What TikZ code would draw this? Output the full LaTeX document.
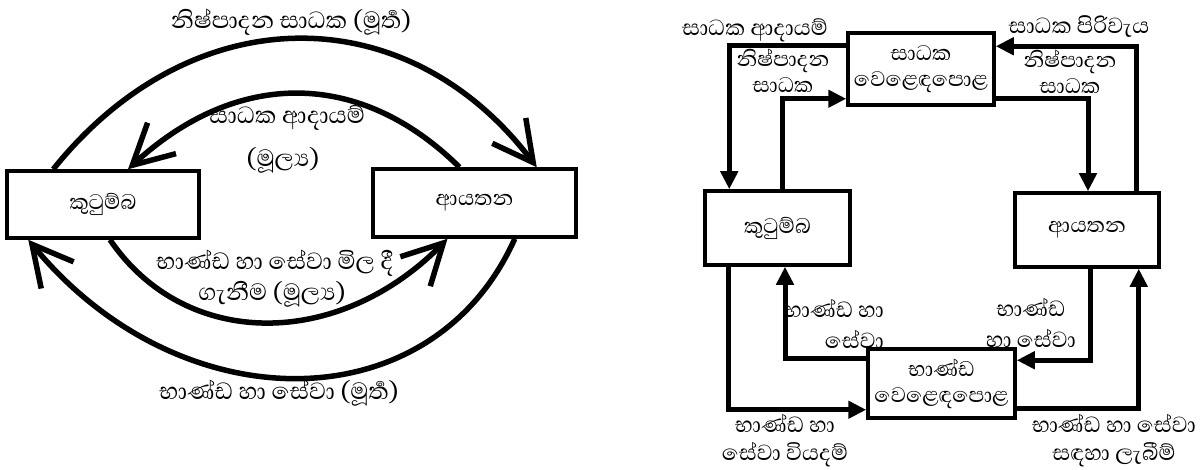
\documentclass[tikz,border=0pt]{standalone}
\usepackage{fontspec}
\setmainfont[Script=Sinhala]{Abhaya Libre}
\usetikzlibrary{arrows.meta}

\begin{document}
\begin{tikzpicture}[x=1pt, y=-1pt,
  box/.style={draw, line width=3.5pt, inner sep=0pt, align=center, font=\fontsize{27}{26}\selectfont},
  curve/.style={line width=5.5pt, -{Straight Barb[length=40pt,width=42pt]}},
  flow/.style={line width=5pt, -{Triangle[length=18pt,width=17pt]}},
  lbl/.style={align=center, inner sep=0pt, font=\fontsize{28}{28}\selectfont},
  bigl/.style={lbl, font=\fontsize{30}{30}\selectfont}]
\useasboundingbox (0,0) rectangle (1201,470);

% Draw the boxes of the simple flow
\node[box, minimum width=192pt, minimum height=67pt] (kutumba1) at (103,204.5) {කුටුම්බ};
\node[box, minimum width=203pt, minimum height=68pt] (ayatana1) at (474.5,203) {ආයතන};

% Draw the curved flows
\draw[curve] ([xshift=48pt]kutumba1.north west) .. controls (192,-4) and (407,-4) .. ([xshift=-41pt]ayatana1.north east);
\draw[curve] ([xshift=-15pt]ayatana1.north) .. controls (360,69) and (237,69) .. ([xshift=25pt]kutumba1.north);
\draw[curve] ([xshift=7pt]kutumba1.south) .. controls (185,350) and (338,350) .. ([xshift=-27pt]ayatana1.south);
\draw[curve] ([xshift=-63pt]ayatana1.south east) .. controls (432,424) and (180,424) .. ([xshift=23pt]kutumba1.south west);

% Place the flow labels
\node[bigl] (prod1) at (291,22) {නිෂ්පාදන සාධක (මූර්^^^^200dත)};
\node[bigl] (inc1) at (287,118) {සාධක ආදායම්};
\node[bigl] (inc1b) at (283,160) {(මූල්^^^^200dය)};
\node[bigl] (buy1) at (275,263) {භාණ්ඩ හා සේවා මිල දී};
\node[bigl] (buy1b) at (272,294) {ගැනීම (මූල්^^^^200dය)};
\node[bigl] (goods1) at (279,393) {භාණ්ඩ හා සේවා (මූර්^^^^200dත)};

% Draw the boxes of the market flow
\node[box, minimum width=146pt, minimum height=72pt] (sadhaka) at (921,69) {සාධක\\වෙළෙඳපොළ};
\node[box, minimum width=145pt, minimum height=74pt] (kutumba2) at (777.5,228) {කුටුම්බ};
\node[box, minimum width=144pt, minimum height=74pt] (ayatana2) at (1087,230) {ආයතන};
\node[box, minimum width=147pt, minimum height=69pt] (bhanda) at (941.5,383.5) {භාණ්ඩ\\වෙළෙඳපොළ};

% Draw the market flows
\draw[flow] ([yshift=-14pt]sadhaka.north west) -| ([xshift=26pt]kutumba2.north west);
\draw[flow] ([xshift=4.5pt]kutumba2.north) |- ([yshift=8pt]sadhaka.south west);
\draw[flow] ([xshift=-24pt]ayatana2.north east) |- ([yshift=-15pt]sadhaka.north east);
\draw[flow] ([yshift=8pt]sadhaka.south east) -| ([xshift=1pt]ayatana2.north);
\draw[flow] ([yshift=-11pt]bhanda.north west) -| ([xshift=7.5pt]kutumba2.south);
\draw[flow] ([xshift=3pt]ayatana2.south) |- ([yshift=-13pt]bhanda.north east);
\draw[flow] ([xshift=25pt]kutumba2.south west) |- ([yshift=10pt]bhanda.south west);
\draw[flow] ([yshift=11pt]bhanda.south east) -| ([xshift=-22pt]ayatana2.south east);

% Place the market labels
\node[lbl] (inc2) at (755,30) {සාධක ආදායම්};
\node[lbl, font=\fontsize{27}{26}\selectfont] (prod2) at (783,71) {නිෂ්පාදන\\සාධක};
\node[lbl] (cost2) at (1079,27) {සාධක පිරිවැය};
\node[lbl, font=\fontsize{27}{26}\selectfont] (prod3) at (1070,72) {නිෂ්පාදන\\සාධක};
\node[lbl, align=right, font=\fontsize{28}{31}\selectfont] (goods2) at (834,324) {භාණ්ඩ හා\\සේවා};
\node[lbl, font=\fontsize{28}{31}\selectfont] (goods3) at (1031,323) {භාණ්ඩ\\හා සේවා};
\node[lbl] (spend2) at (785,441) {භාණ්ඩ හා\\සේවා වියදම්};
\node[lbl] (recv2) at (1114,441) {භාණ්ඩ හා සේවා\\සඳහා ලැබීම්};

\end{tikzpicture}
\end{document}
